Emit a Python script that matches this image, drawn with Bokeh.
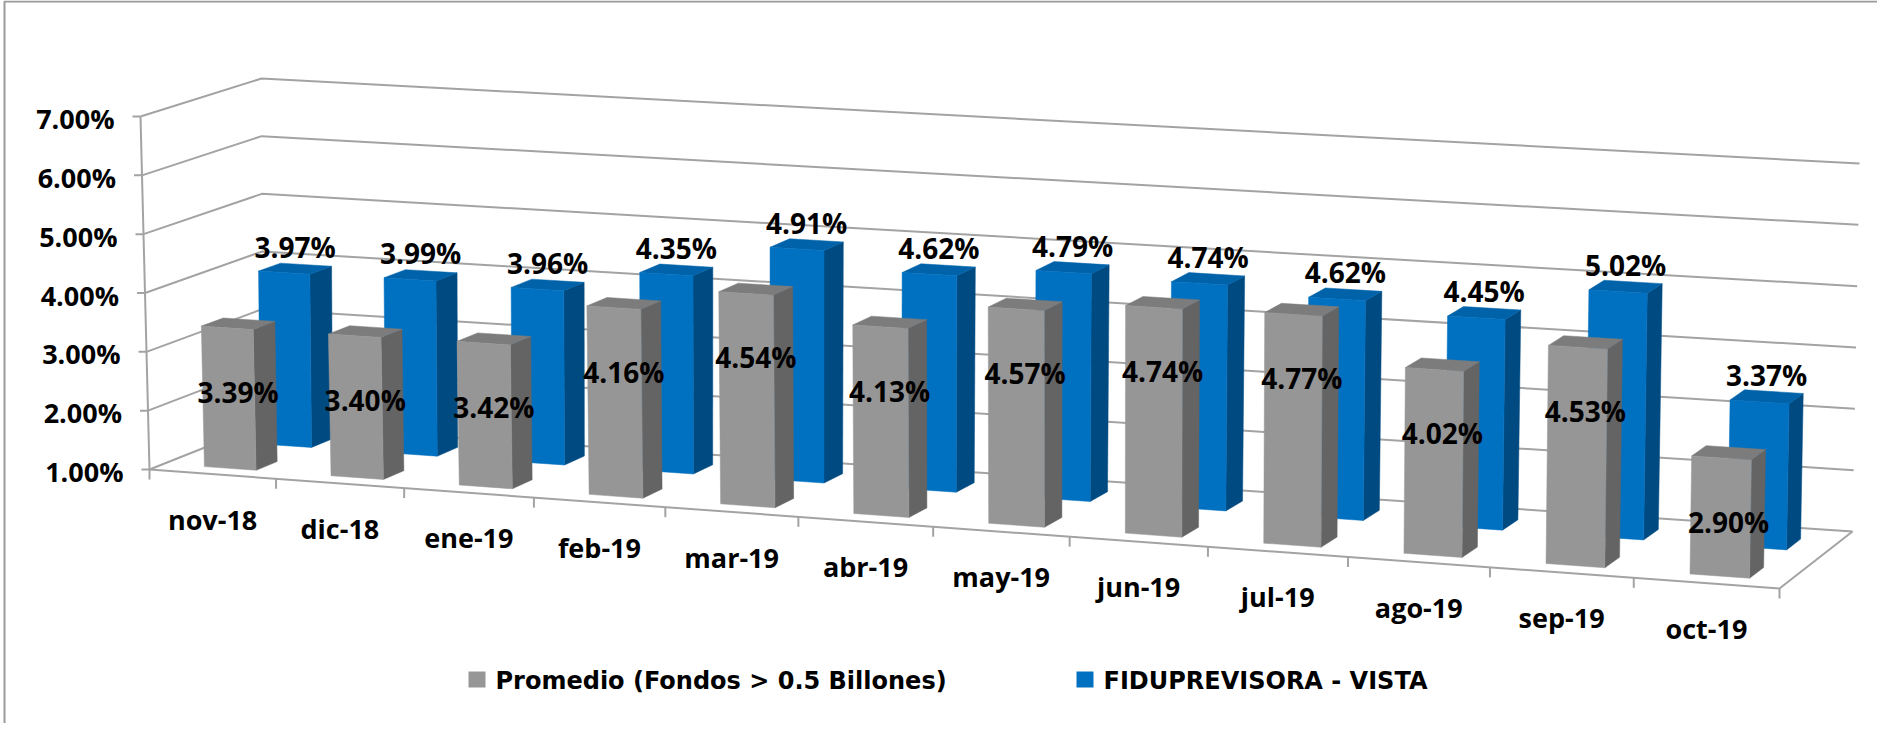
import numpy as np
from bokeh.plotting import figure
from bokeh.models import Range1d, ColumnDataSource
from bokeh.core.properties import value
from bokeh.embed import file_html
from bokeh.resources import INLINE

# ---------------- data ----------------
categories = ["nov-18", "dic-18", "ene-19", "feb-19", "mar-19", "abr-19",
              "may-19", "jun-19", "jul-19", "ago-19", "sep-19", "oct-19"]
promedio = [3.39, 3.40, 3.42, 4.16, 4.54, 4.13, 4.57, 4.74, 4.77, 4.02, 4.53, 2.90]
fiduprevisora = [3.97, 3.99, 3.96, 4.35, 4.91, 4.62, 4.79, 4.74, 4.62, 4.45, 5.02, 3.37]
y_ticks = [1, 2, 3, 4, 5, 6, 7]
series_names = ["Promedio  (Fondos > 0.5 Billones)", "FIDUPREVISORA - VISTA"]

# ---------------- 3D layout (screen anchors of the plot box) ----------------
Y_MIN, Y_MAX = 1.0, 7.0
FL0, FR0, BL0, BR0 = (157, 477), (1787, 596), (270, 432), (1860, 539)   # floor corners
FL1, FR1, BL1, BR1 = (148, 124), (1793, 221), (269, 86), (1867, 171)    # top corners
PERSP = 1.08
NCAT = len(categories)

def _lerp(a, b, w):
    return (a[0] + (b[0] - a[0]) * w, a[1] + (b[1] - a[1]) * w)

def proj(u, v, val):
    """category position u (0..NCAT), depth v (0 front..1 back), data value -> screen px"""
    t = u / NCAT
    s = t / (PERSP - (PERSP - 1) * t)
    h = (val - Y_MIN) / (Y_MAX - Y_MIN)
    f0, b0 = _lerp(FL0, FR0, s), _lerp(BL0, BR0, s)
    f1, b1 = _lerp(FL1, FR1, s), _lerp(BL1, BR1, s)
    p0, p1 = _lerp(f0, b0, v), _lerp(f1, b1, v)
    return _lerp(p0, p1, h)

W, H = 1877, 723
p = figure(width=W, height=H, x_range=Range1d(8, 1885), y_range=Range1d(731, 8),
           output_backend="svg", toolbar_location=None,
           x_axis_type=None, y_axis_type=None, min_border=0)
p.grid.visible = False
p.outline_line_color = None
p.background_fill_color = "white"
p.border_fill_color = "white"

FONT = value("Open Sans")

# chart border (top & left visible)
p.line([12, 12, 1885], [731, 9, 9], line_color="#9a9a9a", line_width=2)

GRID = "#a3a3a3"
# walls / gridlines
gx, gy = [], []
for t in y_ticks:
    pts = [proj(0, 0, t), proj(0, 1, t), proj(NCAT, 1, t)]
    gx.append([q[0] for q in pts]); gy.append([q[1] for q in pts])
p.multi_line(gx, gy, line_color=GRID, line_width=2)
# floor front & right edges, left axis edge
pts = [proj(0, 0, Y_MIN), proj(NCAT, 0, Y_MIN), proj(NCAT, 1, Y_MIN)]
p.line([q[0] for q in pts], [q[1] for q in pts], line_color=GRID, line_width=2)
a, b = proj(0, 0, Y_MIN), proj(0, 0, Y_MAX)
p.line([a[0], b[0]], [a[1], b[1]], line_color=GRID, line_width=2)
# ticks
tx, ty = [], []
for t in y_ticks:
    q = proj(0, 0, t)
    tx.append([q[0] - 8, q[0]]); ty.append([q[1], q[1]])
for i in range(NCAT + 1):
    q = proj(i, 0, Y_MIN)
    tx.append([q[0], q[0]]); ty.append([q[1], q[1] + 10])
p.multi_line(tx, ty, line_color=GRID, line_width=2)

# y tick labels
lab = ColumnDataSource(dict(
    x=[proj(0, 0, t)[0] - 26 for t in y_ticks],
    y=[proj(0, 0, t)[1] + 2 for t in y_ticks],
    t=["%.2f%%" % t for t in y_ticks]))
p.text("x", "y", text="t", source=lab, text_font=FONT, text_font_style="bold",
       text_font_size="27px", text_align="right", text_baseline="middle", text_color="black")

# category labels
cl = ColumnDataSource(dict(
    x=[proj(i + 0.5, 0, Y_MIN)[0] for i in range(NCAT)],
    y=[proj(i + 0.5, 0, Y_MIN)[1] + 45 for i in range(NCAT)],
    t=categories))
p.text("x", "y", text="t", source=cl, text_font=FONT, text_font_style="bold",
       text_font_size="27px", text_align="center", text_baseline="middle", text_color="black")

# bars
U0, U1 = 0.32, 0.73
ROWS = [(0.13, 0.32), (0.63, 0.82)]
COLORS = [("#969696", "#646464", "#7c7c7c"), ("#0070C0", "#004A82", "#0062A9")]
series_vals = [promedio, fiduprevisora]
for k in (1, 0):  # back row first
    v0, v1 = ROWS[k]
    fr_x, fr_y, sd_x, sd_y, tp_x, tp_y = [], [], [], [], [], []
    for i, val in enumerate(series_vals[k]):
        ua, ub = i + U0, i + U1
        fr = [proj(ua, v0, Y_MIN), proj(ub, v0, Y_MIN), proj(ub, v0, val), proj(ua, v0, val)]
        sd = [proj(ub, v0, Y_MIN), proj(ub, v1, Y_MIN), proj(ub, v1, val), proj(ub, v0, val)]
        tp = [proj(ua, v0, val), proj(ub, v0, val), proj(ub, v1, val), proj(ua, v1, val)]
        fr_x.append([q[0] for q in fr]); fr_y.append([q[1] for q in fr])
        sd_x.append([q[0] for q in sd]); sd_y.append([q[1] for q in sd])
        tp_x.append([q[0] for q in tp]); tp_y.append([q[1] for q in tp])
    cf, cs, ct = COLORS[k]
    p.patches(sd_x, sd_y, fill_color=cs, line_color=cs, line_width=0.5)
    p.patches(tp_x, tp_y, fill_color=ct, line_color=ct, line_width=0.5)
    p.patches(fr_x, fr_y, fill_color=cf, line_color=cf, line_width=0.5)

# value labels: grey ones inside the top of the bar, blue ones above the bar
uc = (U0 + U1) / 2
vg = sum(ROWS[0]) / 2
vb = sum(ROWS[1]) / 2
g_src = ColumnDataSource(dict(
    x=[proj(i + uc, vg, v)[0] for i, v in enumerate(promedio)],
    y=[proj(i + uc, ROWS[0][0], v)[1] + 64 for i, v in enumerate(promedio)],
    t=["%.2f%%" % v for v in promedio]))
b_src = ColumnDataSource(dict(
    x=[proj(i + uc, vb, v)[0] for i, v in enumerate(fiduprevisora)],
    y=[proj(i + uc, vb, v)[1] - 22 for i, v in enumerate(fiduprevisora)],
    t=["%.2f%%" % v for v in fiduprevisora]))
for src in (g_src, b_src):
    p.text("x", "y", text="t", source=src, text_font=FONT, text_font_style="bold",
           text_font_size="28px", text_align="center", text_baseline="middle", text_color="black")

# legend (swatch + label per series)
LEG_Y = 687
LEG_X = [476, 1084]
SW = 17
p.quad(left=LEG_X, right=[x + SW for x in LEG_X],
       top=[LEG_Y - 8] * 2, bottom=[LEG_Y + 8] * 2,
       fill_color=[COLORS[0][0], COLORS[1][0]], line_color=None)
p.text([x + SW + 10 for x in LEG_X], [LEG_Y + 1] * 2, text=series_names,
       text_font=value("DejaVu Sans"), text_font_style="bold", text_font_size="24px",
       text_align="left", text_baseline="middle", text_color="black")

open("out.html", "w").write(file_html(p, INLINE))
